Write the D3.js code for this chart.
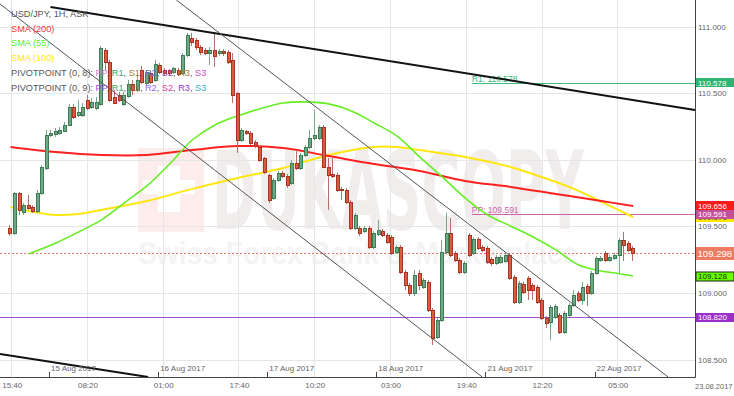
<!DOCTYPE html>
<html>
<head>
<meta charset="utf-8">
<script src="https://cdn.jsdelivr.net/npm/d3@7"></script>
<style>
body { margin: 0; background: #fff; }
svg { display: block; font-family: "Liberation Sans", Arial, sans-serif; }
</style>
</head>
<body>
<div id="chart"></div>
<script>
// USD/JPY 1H candles, 14 Aug 15:00 -> 22 Aug 08:00 (weekend skipped)
var firstHour = 15; // trading hours counted from 14 Aug 00:00

var opens = [109.489,109.451,109.752,109.609,109.661,109.646,109.616,109.752,109.939,110.187,
110.194,110.202,110.217,110.262,110.397,110.337,110.337,110.450,110.397,110.390,
110.420,110.825,110.735,110.472,110.487,110.420,110.480,110.570,110.525,110.675,
110.577,110.652,110.600,110.712,110.675,110.675,110.660,110.675,110.652,110.787,
110.915,110.900,110.847,110.825,110.802,110.825,110.802,110.817,110.810,110.750,
110.502,110.149,110.217,110.202,110.134,110.097,110.014,109.887,109.714,109.849,
109.902,109.879,109.827,109.977,109.939,110.037,110.097,110.164,110.164,110.247,
109.947,109.894,109.887,109.782,109.774,109.684,109.489,109.489,109.466,109.489,
109.346,109.444,109.466,109.436,109.421,109.309,109.346,109.158,109.061,109.001,
109.151,109.046,109.083,108.873,108.670,108.798,109.309,109.451,109.301,109.249,
109.158,109.436,109.301,109.406,109.346,109.339,109.256,109.226,109.234,109.241,
109.286,109.121,108.933,109.068,109.113,109.061,109.046,108.948,108.813,108.783,
108.821,108.836,108.708,108.836,108.911,109.001,108.948,109.053,109.001,109.151,
109.249,109.301,109.249,109.264,109.286,109.399,109.376,109.339];

var highs = [109.511,109.759,109.759,109.676,109.737,109.661,109.774,109.962,110.225,110.225,
110.240,110.247,110.285,110.420,110.420,110.450,110.427,110.487,110.465,110.472,
110.855,110.840,110.750,110.525,110.510,110.510,110.600,110.600,110.637,110.705,
110.675,110.667,110.750,110.727,110.690,110.682,110.697,110.690,110.802,110.953,
110.953,110.915,110.862,110.840,110.847,110.953,110.832,110.832,110.825,110.802,
110.510,110.240,110.225,110.217,110.149,110.104,110.022,109.894,109.864,109.917,
109.917,109.894,109.999,110.074,110.052,110.112,110.225,110.375,110.262,110.262,
110.014,110.014,109.902,109.797,109.789,109.699,109.601,109.504,109.504,109.504,
109.466,109.549,109.481,109.451,109.436,109.361,109.361,109.173,109.076,109.173,
109.173,109.113,109.098,108.888,108.813,109.399,109.601,109.564,109.316,109.264,
109.241,109.451,109.421,109.421,109.361,109.354,109.271,109.286,109.286,109.301,
109.301,109.136,109.091,109.083,109.128,109.076,109.061,108.963,108.828,108.911,
108.918,108.851,108.866,108.926,109.023,109.016,109.083,109.068,109.166,109.279,
109.279,109.316,109.286,109.301,109.414,109.459,109.391,109.354];

var lows = [109.429,109.436,109.586,109.586,109.624,109.601,109.601,109.737,109.924,110.172,
110.172,110.187,110.209,110.255,110.307,110.322,110.322,110.375,110.382,110.375,
110.405,110.675,110.435,110.420,110.435,110.405,110.465,110.487,110.510,110.570,
110.562,110.570,110.585,110.645,110.637,110.637,110.645,110.630,110.637,110.772,
110.855,110.825,110.787,110.787,110.712,110.697,110.780,110.780,110.720,110.427,
110.052,110.134,110.187,110.112,110.089,109.984,109.894,109.676,109.699,109.834,
109.864,109.789,109.812,109.924,109.924,110.022,110.082,110.149,110.149,109.939,
109.624,109.864,109.759,109.699,109.669,109.474,109.474,109.429,109.451,109.331,
109.331,109.429,109.421,109.369,109.286,109.294,109.143,109.023,108.978,108.978,
109.023,109.031,108.858,108.610,108.655,108.783,109.294,109.271,109.234,109.143,
109.143,109.271,109.286,109.324,109.309,109.219,109.204,109.211,109.219,109.226,
109.098,108.918,108.918,108.993,108.948,108.948,108.918,108.798,108.738,108.648,
108.806,108.693,108.693,108.821,108.896,108.933,108.911,108.903,108.986,109.136,
109.234,109.234,109.234,109.249,109.151,109.241,109.309,109.241];

var closes = [109.451,109.752,109.624,109.661,109.639,109.616,109.752,109.947,110.187,110.202,
110.217,110.225,110.262,110.397,110.322,110.360,110.397,110.390,110.435,110.435,
110.840,110.735,110.450,110.427,110.450,110.487,110.570,110.525,110.600,110.585,
110.660,110.585,110.720,110.660,110.652,110.652,110.690,110.645,110.787,110.937,
110.885,110.847,110.810,110.802,110.825,110.780,110.817,110.802,110.735,110.487,
110.149,110.225,110.202,110.127,110.112,109.999,109.909,109.699,109.849,109.902,
109.879,109.812,109.977,109.939,110.037,110.097,110.164,110.187,110.247,109.947,
109.887,109.879,109.774,109.774,109.684,109.489,109.586,109.451,109.489,109.346,
109.451,109.474,109.436,109.384,109.301,109.346,109.158,109.061,109.001,109.136,
109.061,109.098,108.873,108.663,108.798,109.309,109.451,109.286,109.249,109.158,
109.226,109.286,109.406,109.339,109.324,109.234,109.226,109.271,109.271,109.286,
109.113,108.933,109.076,109.008,109.023,109.023,108.933,108.813,108.776,108.896,
108.903,108.708,108.851,108.911,108.986,108.948,109.046,109.001,109.151,109.264,
109.264,109.249,109.271,109.286,109.399,109.361,109.324,109.298];

// moving averages, read at candle indexes
var sma200Idx = [0,10,20,30,40,50,60,70,80,90,100,110,120,130,137];
var sma200 = [110.097,110.059,110.037,110.037,110.074,110.104,110.089,110.029,109.969,109.917,109.842,109.797,109.744,109.691,109.654];
var sma100Idx = [0,5,10,15,20,30,40,50,60,70,80,85,90,100,110,120,125,130,137];
var sma100 = [109.646,109.609,109.586,109.594,109.624,109.691,109.782,109.864,109.939,110.037,110.097,110.097,110.074,110.022,109.947,109.834,109.767,109.684,109.571];
var sma55Idx = [4,10,15,20,25,30,35,40,45,50,60,65,70,75,80,85,90,95,100,105,110,115,120,125,130,133,137];
var sma55 = [109.294,109.376,109.459,109.549,109.676,109.804,109.969,110.149,110.262,110.330,110.427,110.435,110.420,110.367,110.277,110.180,110.022,109.872,109.714,109.586,109.504,109.421,109.324,109.211,109.166,109.151,109.128];

// axis ticks
var priceTicks = [108.5, 109.0, 109.5, 110.0, 110.5, 111.0];
var timeTickHours = [15.667, 32.333, 49, 65.667, 82.333, 99, 115.667, 132.333, 149];
var timeTickLabels = ["15:40","08:20","01:00","17:40","10:20","03:00","19:40","12:20","05:00"];
var dayTickHours = [24, 48, 72, 96, 120, 144];
var dayTickLabels = ["15 Aug 2017","16 Aug 2017","17 Aug 2017","18 Aug 2017","21 Aug 2017","22 Aug 2017"];

// drawn trend lines: [hour1, price1, hour2, price2]
var trendLines = [
    [24.3, 111.148, 166.1, 110.375],
    [13.2, 108.543, 45.8, 108.37],
    [13.2, 111.170, 119.3, 108.37],
    [52.0, 111.200, 160.2, 108.37]
];
var trendWidths = [2, 2, 1, 1];

var svgWidth = 734;
var svgHeight = 396;
var plotW = 695;
var plotH = 377;

var svg = d3.select("#chart")
    .append("svg")
    .attr("width", svgWidth)
    .attr("height", svgHeight);

var xScale = d3.scaleLinear().domain([13.2, 166.1]).range([0, plotW]);
var yScale = d3.scaleLinear().domain([108.37, 111.2]).range([plotH, 0]);
var snap = v => Math.round(v) + 0.5;

// watermark
var wm = svg.append("g");
wm.append("rect").attr("x", 138).attr("y", 148).attr("width", 66).attr("height", 84).attr("fill", "#fcecec");
wm.append("rect").attr("x", 158).attr("y", 166).attr("width", 22).attr("height", 46).attr("fill", "#fff");
wm.append("rect").attr("x", 143).attr("y", 180).attr("width", 52).attr("height", 14).attr("fill", "#fff");
wm.append("text").attr("x", 212).attr("y", 229)
    .attr("textLength", 372).attr("lengthAdjust", "spacingAndGlyphs")
    .attr("font-size", 108).attr("font-weight", "bold")
    .attr("font-family", "DejaVu Sans")
    .attr("fill", "#f1eded").text("DUKASCOPY");
wm.append("text").attr("x", 138).attr("y", 264)
    .attr("textLength", 440).attr("lengthAdjust", "spacingAndGlyphs")
    .attr("font-size", 32).attr("font-weight", "bold")
    .attr("fill", "#f4f4f4").text("Swiss Forex Bank & Marketplace");

// grid
svg.append("g").selectAll("line").data(priceTicks).enter().append("line")
    .attr("x1", 0).attr("x2", plotW)
    .attr("y1", d => snap(yScale(d))).attr("y2", d => snap(yScale(d)))
    .attr("stroke", "#e6e6e6");
svg.append("g").selectAll("line").data(timeTickHours).enter().append("line")
    .attr("x1", d => snap(xScale(d))).attr("x2", d => snap(xScale(d)))
    .attr("y1", 0).attr("y2", plotH)
    .attr("stroke", "#e6e6e6");

// pivot levels and price line
svg.append("line").attr("x1", xScale(117)).attr("x2", plotW)
    .attr("y1", snap(yScale(110.578))).attr("y2", snap(yScale(110.578)))
    .attr("stroke", "#3dbb80");
svg.append("text").attr("x", xScale(117)).attr("y", yScale(110.578) - 1)
    .attr("font-size", 8.5).attr("fill", "#3dbb80").text("R1: 110.578");
svg.append("line").attr("x1", xScale(117)).attr("x2", plotW)
    .attr("y1", snap(yScale(109.591))).attr("y2", snap(yScale(109.591)))
    .attr("stroke", "#cc62ac");
svg.append("text").attr("x", xScale(117)).attr("y", yScale(109.591) - 1.5)
    .attr("font-size", 8.5).attr("fill", "#cc62ac").text("PP: 109.591");
svg.append("line").attr("x1", 0).attr("x2", plotW)
    .attr("y1", snap(yScale(108.820))).attr("y2", snap(yScale(108.820)))
    .attr("stroke", "#a44fd0");
svg.append("line").attr("x1", 0).attr("x2", plotW)
    .attr("y1", snap(yScale(109.298))).attr("y2", snap(yScale(109.298)))
    .attr("stroke", "#ec7d6c").attr("stroke-dasharray", "2,2");

// moving averages
function maLine(idx, vals, color, w) {
    var pts = idx.map((k, j) => [xScale(firstHour + k + 0.5), yScale(vals[j])]);
    svg.append("path")
        .attr("d", d3.line().curve(d3.curveCatmullRom)(pts))
        .attr("fill", "none").attr("stroke", color).attr("stroke-width", w);
}
maLine(sma100Idx, sma100, "#ffe610", 2);
maLine(sma200Idx, sma200, "#ff2020", 2);
maLine(sma55Idx, sma55, "#66ee22", 1.6);

// candles
var candles = opens.map((o, i) => ({
    x: Math.round(xScale(firstHour + i + 0.5)),
    o: o, h: highs[i], l: lows[i], c: closes[i], up: closes[i] >= o
}));
var cg = svg.append("g");
cg.selectAll(".wick").data(candles).enter().append("line")
    .attr("x1", d => d.x - 0.5).attr("x2", d => d.x - 0.5)
    .attr("y1", d => yScale(d.h)).attr("y2", d => yScale(d.l))
    .attr("stroke", d => d.up ? "#7aa88a" : "#b8706a");
cg.selectAll(".body").data(candles).enter().append("rect")
    .attr("x", d => d.x - 1.5)
    .attr("y", d => Math.round(yScale(Math.max(d.o, d.c))) + 0.5)
    .attr("width", 3)
    .attr("height", d => Math.max(1, Math.round(Math.abs(yScale(d.o) - yScale(d.c)))))
    .attr("fill", d => d.up ? "#6ca883" : "#db5a41")
    .attr("stroke", d => d.up ? "#3f7b55" : "#a83522")
    .attr("stroke-width", 1);

// trend lines
svg.append("g").selectAll("line").data(trendLines).enter().append("line")
    .attr("x1", d => xScale(d[0])).attr("y1", d => yScale(d[1]))
    .attr("x2", d => xScale(d[2])).attr("y2", d => yScale(d[3]))
    .attr("stroke", (d, i) => trendWidths[i] > 1 ? "#111" : "#555")
    .attr("stroke-width", (d, i) => trendWidths[i]);

// axes frame
svg.append("line").attr("x1", 0).attr("x2", plotW + 0.5).attr("y1", plotH + 0.5).attr("y2", plotH + 0.5).attr("stroke", "#444");
svg.append("line").attr("x1", plotW + 0.5).attr("x2", plotW + 0.5).attr("y1", 0).attr("y2", plotH + 0.5).attr("stroke", "#444");

// right price labels
svg.append("g").selectAll("text").data(priceTicks).enter().append("text")
    .attr("x", 698).attr("y", d => yScale(d) + 3)
    .attr("font-size", 8).attr("fill", "#666")
    .text(d => d3.format(".3f")(d));

// bottom labels
svg.append("g").selectAll("line").data(dayTickHours).enter().append("line")
    .attr("x1", d => snap(xScale(d))).attr("x2", d => snap(xScale(d)))
    .attr("y1", plotH - 5).attr("y2", plotH)
    .attr("stroke", "#444");
svg.append("g").selectAll("text").data(dayTickHours).enter().append("text")
    .attr("x", d => xScale(d) + 2).attr("y", plotH - 6)
    .attr("font-size", 8).attr("fill", "#666")
    .text((d, i) => dayTickLabels[i]);
svg.append("g").selectAll("text").data(timeTickHours).enter().append("text")
    .attr("x", d => xScale(d) + 1).attr("y", plotH + 11)
    .attr("text-anchor", "middle")
    .attr("font-size", 8).attr("fill", "#666")
    .text((d, i) => timeTickLabels[i]);
svg.append("text").attr("x", 695).attr("y", plotH + 12)
    .attr("font-size", 7.5).attr("fill", "#666").text("23.08.2017");

// value tags on the price axis
var tagValues = [110.578, 109.656, 109.571, 109.591, 109.128, 108.820];
var tagFills = ["#2fb573", "#ff1a1a", "#ffe600", "#c4509c", "#66ff00", "#9b30c8"];
var tagText = ["#fff", "#fff", "#555", "#fff", "#222", "#fff"];
var tags = svg.append("g");
tagValues.forEach(function(v, i) {
    var y = yScale(v);
    tags.append("rect").attr("x", 696).attr("y", Math.round(y - 4.5)).attr("width", 38).attr("height", 9)
        .attr("fill", tagFills[i]).attr("stroke", i == 4 ? "#222" : "none");
    tags.append("text").attr("x", 698).attr("y", y + 3)
        .attr("font-size", 8).attr("fill", tagText[i]).text(d3.format(".3f")(v));
});
var lastY = yScale(closes[closes.length - 1]);
tags.append("rect").attr("x", 696).attr("y", Math.round(lastY - 6.5)).attr("width", 38).attr("height", 13).attr("fill", "#ee7a62");
tags.append("text").attr("x", 697.5).attr("y", lastY + 3.5)
    .attr("font-size", 9.6).attr("fill", "#fff").text(d3.format(".3f")(closes[closes.length - 1]));

// legend
var legendLines = [
    [["USD/JPY, 1H, ASK", "#555"]],
    [["SMA (200)", "#ff3030"]],
    [["SMA (55)", "#5cf020"]],
    [["SMA (100)", "#ffe600"]],
    [["PIVOTPOINT (0, 8): ", "#555"], ["PP", "#e07cc8"], [", ", "#555"], ["R1", "#34a868"], [", ", "#555"], ["S1", "#9a7a40"], [", ", "#555"], ["R2", "#6a70d8"], [", ", "#555"], ["S2", "#9a44b0"], [", ", "#555"], ["R3", "#b07a20"], [", ", "#555"], ["S3", "#d048d0"]],
    [["PIVOTPOINT (0, 9): ", "#555"], ["PP", "#a444e0"], [", ", "#555"], ["R1", "#44a868"], [", ", "#555"], ["S1", "#a07040"], [", ", "#555"], ["R2", "#8866ee"], [", ", "#555"], ["S2", "#e0409a"], [", ", "#555"], ["R3", "#9a33cc"], [", ", "#555"], ["S3", "#3ca8cc"]]
];
var legend = svg.append("g");
legendLines.forEach(function(parts, i) {
    var t = legend.append("text").attr("x", 11).attr("y", 17 + i * 14.7).attr("font-size", 9.2);
    parts.forEach(function(p) { t.append("tspan").attr("fill", p[1]).text(p[0]); });
});
</script>
</body>
</html>
